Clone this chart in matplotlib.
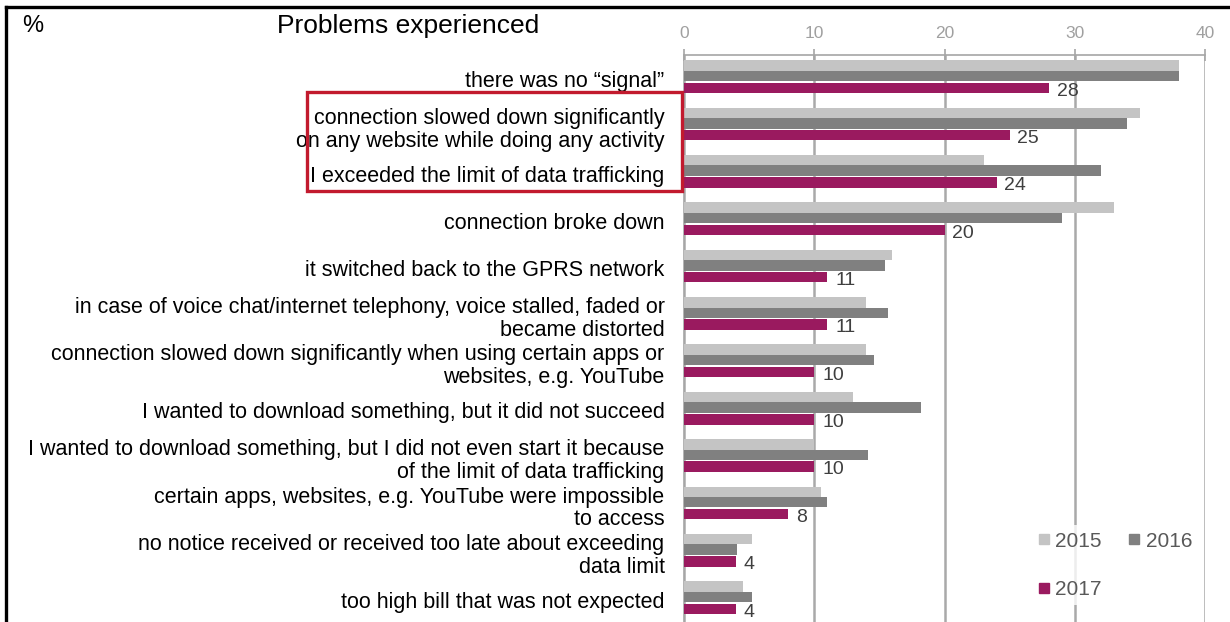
import matplotlib
matplotlib.use("Agg")
import matplotlib.pyplot as plt
import numpy as np
from matplotlib.patches import Rectangle
from matplotlib.lines import Line2D

plt.rcParams['font.family'] = ['Liberation Sans', 'DejaVu Sans']

categories = [
    "there was no \u201csignal\u201d",
    "connection slowed down significantly\non any website while doing any activity",
    "I exceeded the limit of data trafficking",
    "connection broke down",
    "it switched back to the GPRS network",
    "in case of voice chat/internet telephony, voice stalled, faded or\nbecame distorted",
    "connection slowed down significantly when using certain apps or\nwebsites, e.g. YouTube",
    "I wanted to download something, but it did not succeed",
    "I wanted to download something, but I did not even start it because\nof the limit of data trafficking",
    "certain apps, websites, e.g. YouTube were impossible\nto access",
    "no notice received or received too late about exceeding\ndata limit",
    "too high bill that was not expected",
]
years = ["2015", "2016", "2017"]
v2015 = [38, 35, 23, 33, 16, 14, 14, 13, 10, 10.5, 5.2, 4.5]
v2016 = [38, 34, 32, 29, 15.4, 15.7, 14.6, 18.2, 14.1, 11, 4.1, 5.2]
v2017 = [28, 25, 24, 20, 11, 11, 10, 10, 10, 8, 4, 4]
x_ticks = [0, 10, 20, 30, 40]

colors = ["#c4c4c4", "#808080", "#9a1a5f"]

W, H = 1230, 622
fig = plt.figure(figsize=(W / 100, H / 100), dpi=100)

# axes placement in pixels
ax_left, ax_right, ax_top, ax_bottom = 684, 1205, 55, 622
ax = fig.add_axes([ax_left / W, 1 - ax_bottom / H, (ax_right - ax_left) / W, (ax_bottom - ax_top) / H])

n = len(categories)
y = np.arange(n)
bh = 0.22
offsets = [-0.22, 0.0, 0.25]
for vals, off, c in zip([v2015, v2016, v2017], offsets, colors):
    ax.barh(y + off, vals, height=bh, color=c, zorder=3)

for yi, v in zip(y, v2017):
    ax.text(v + 0.6, yi + offsets[2] + 0.07, f"{v:g}", va="center", ha="left",
            fontsize=14, color="#3f3f3f", zorder=4)

ax.set_xlim(0, 40)
ax.set_ylim(11.53, -0.443)
ax.xaxis.tick_top()
ax.set_xticks(x_ticks)
ax.set_xticklabels([str(t) for t in x_ticks])
ax.tick_params(axis="x", colors="#a6a6a6", labelsize=12.5, direction="inout", length=8, width=1.2, pad=6)
ax.tick_params(axis="x", labelcolor="#a0a0a0")
ax.set_yticks(y + 0.06)
ax.set_yticklabels(categories, fontsize=15.5, linespacing=1.12)
ax.tick_params(axis="y", length=0, pad=14)
ax.grid(axis="x", color="#a9a9a9", linewidth=1.8, zorder=0)
for s in ["right", "bottom"]:
    ax.spines[s].set_visible(False)
ax.spines["top"].set_color("#a6a6a6")
ax.spines["top"].set_linewidth(1.2)
ax.spines["left"].set_color("#a6a6a6")
ax.spines["left"].set_linewidth(1.2)

# legend: column-major filling -> order gives rows [2015, 2016] / [2017]
order = [0, 2, 1]
handles = [Line2D([], [], marker="s", linestyle="none", markersize=7, color=colors[i]) for i in order]
labels = [years[i] for i in order]
leg = fig.legend(handles, labels, ncol=2, loc="upper left",
                 bbox_to_anchor=(1020 / W, 1 - 515 / H), frameon=True, fontsize=15,
                 labelcolor="#595959", handlelength=0.7, handletextpad=0.2,
                 columnspacing=1.2, labelspacing=1.4, borderpad=0.3)
leg.get_frame().set_edgecolor("none")
leg.get_frame().set_facecolor("white")
leg.set_zorder(5)

# title texts
fig.text(22 / W, 1 - 26 / H, "%", fontsize=17, va="center", ha="left")
fig.text(277 / W, 1 - 26 / H, "Problems experienced", fontsize=19, va="center", ha="left")

# figure border (top and left visible)
fig.add_artist(Line2D([6 / W, 1], [1 - 7 / H, 1 - 7 / H], color="black", linewidth=2.4, transform=fig.transFigure))
fig.add_artist(Line2D([6 / W, 6 / W], [0, 1 - 7 / H], color="black", linewidth=2.4, transform=fig.transFigure))

# red highlight box
bx0, bx1, by0, by1 = 307, 682, 92, 191
fig.add_artist(Rectangle((bx0 / W, 1 - by1 / H), (bx1 - bx0) / W, (by1 - by0) / H,
                         transform=fig.transFigure, fill=False, edgecolor="#c21a2e", linewidth=2.4, zorder=10))

fig.savefig("out.png", dpi=100)
